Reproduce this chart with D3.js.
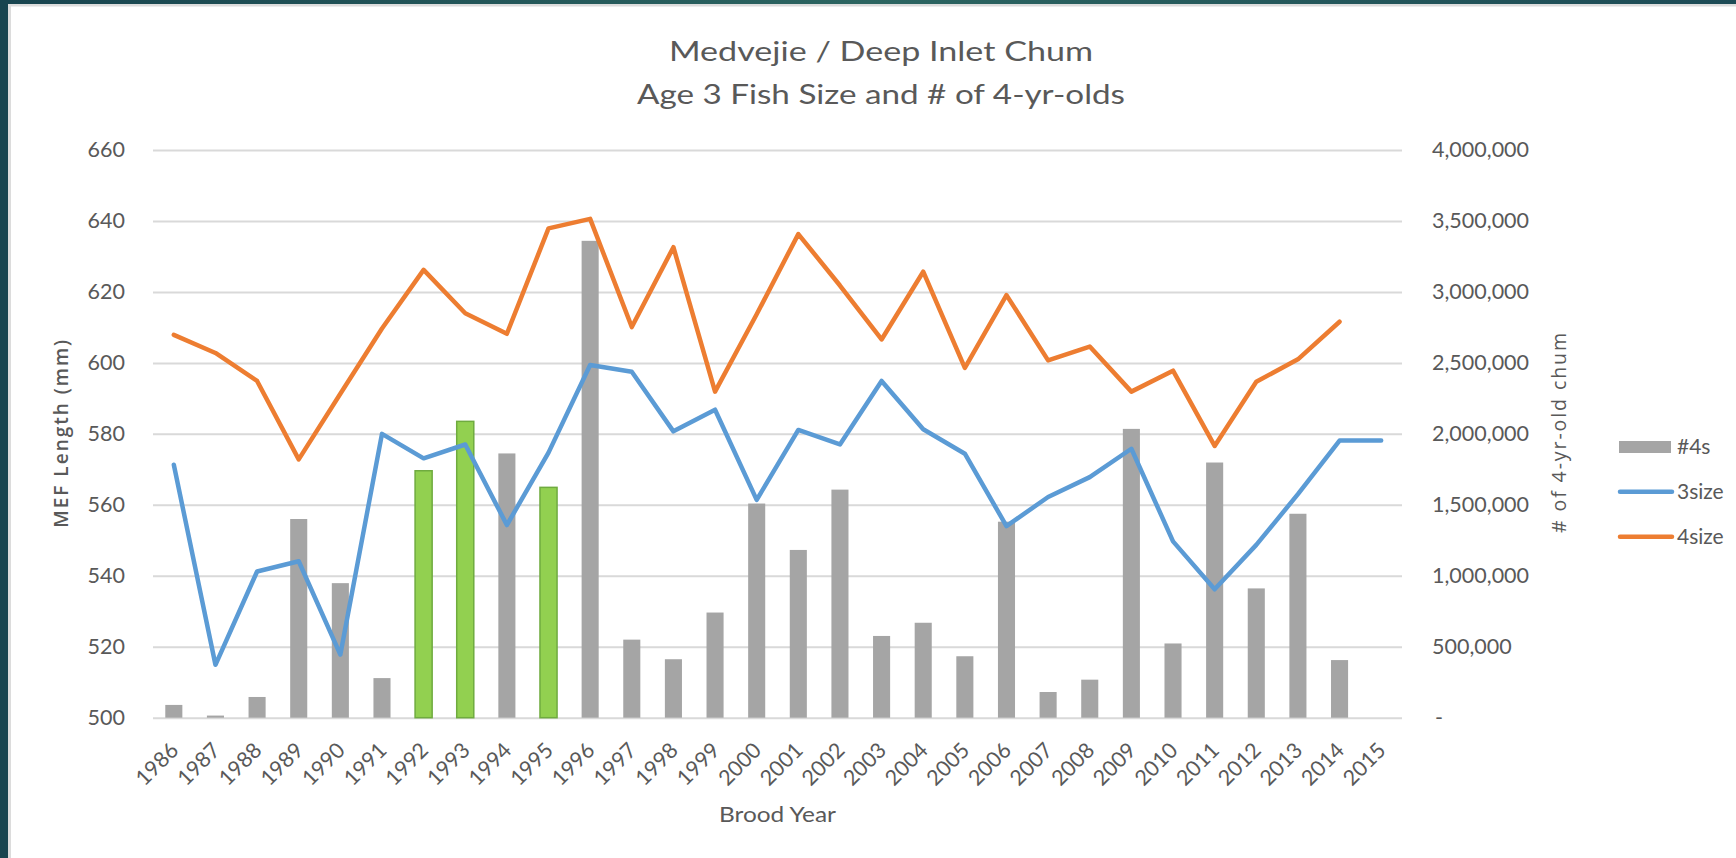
<!DOCTYPE html>
<html>
<head>
<meta charset="utf-8">
<script src="https://cdn.jsdelivr.net/npm/d3@7"></script>
<style>
  html, body { margin: 0; padding: 0; background: #ffffff; }
  svg { display: block; }
  text { fill: #595959; }
</style>
</head>
<body>
<svg id="chart" width="1736" height="858"></svg>
<script>
// ---------------- data ----------------
const years = ["1986","1987","1988","1989","1990","1991","1992","1993","1994","1995",
               "1996","1997","1998","1999","2000","2001","2002","2003","2004","2005",
               "2006","2007","2008","2009","2010","2011","2012","2013","2014","2015"];
const fours = [90000, 15000, 146000, 1400000, 948000, 279000, 1740000, 2088000, 1862000, 1623000,
               3360000, 550000, 412000, 741000, 1509000, 1182000, 1607000, 576000, 669000, 433000,
               1381000, 181000, 268000, 2035000, 523000, 1798000, 911000, 1437000, 406000, null];
const size3 = [571.3, 514.9, 541.2, 544.1, 517.8, 580.0, 573.1, 577.0, 554.3, 574.7,
               599.4, 597.5, 580.7, 586.8, 561.4, 581.1, 577.0, 594.9, 581.3, 574.4,
               554.0, 562.2, 567.8, 575.8, 549.7, 536.2, 548.7, 563.0, 578.1, 578.1];
const size4 = [607.9, 602.8, 594.9, 572.8, 591.3, 609.7, 626.2, 614.0, 608.2, 637.9,
               640.6, 610.1, 632.6, 591.9, 613.7, 636.3, 621.8, 606.6, 625.7, 598.6,
               619.1, 600.7, 604.6, 591.9, 597.8, 576.6, 594.7, 601.0, 611.6, null];
const highlightYears = ["1992", "1993", "1995"];
const leftTicks = [500, 520, 540, 560, 580, 600, 620, 640, 660];
const rightTicks = [0, 500000, 1000000, 1500000, 2000000, 2500000, 3000000, 3500000, 4000000];
const titleLines = ["Medvejie / Deep Inlet Chum", "Age 3 Fish Size and # of 4-yr-olds"];
const seriesNames = ["#4s", "3size", "4size"];

// ---------------- layout ----------------
const W = 1736, H = 858;
const plot = { left: 153, right: 1402, top: 150, bottom: 717.7 };
const colors = { bar: "#a5a5a5", hi: "#92d050", hiStroke: "#6fab3f", s3: "#5b9bd5", s4: "#ed7d31", grid: "#d9d9d9" };
const tickFont = "Lato, 'Noto Sans', sans-serif";

const svg = d3.select("#chart");

// frame / background
const defs = svg.append("defs");
const grad = defs.append("linearGradient").attr("id", "teal").attr("x1", "0").attr("x2", "1").attr("y1", "0").attr("y2", "0");
grad.append("stop").attr("offset", "0").attr("stop-color", "#18444f");
grad.append("stop").attr("offset", "0.5").attr("stop-color", "#2c6561");
grad.append("stop").attr("offset", "1").attr("stop-color", "#1d4b56");
svg.append("rect").attr("x", 0).attr("y", 0).attr("width", W).attr("height", H).attr("fill", "#ffffff");
svg.append("rect").attr("x", 0).attr("y", 0).attr("width", W).attr("height", 4).attr("fill", "url(#teal)");
svg.append("rect").attr("x", 0).attr("y", 0).attr("width", 8).attr("height", H).attr("fill", "#18444f");
svg.append("rect").attr("x", 8).attr("y", 4).attr("width", W - 8).attr("height", 2.5).attr("fill", "#dcdcdc");
svg.append("rect").attr("x", 8).attr("y", 4).attr("width", 3).attr("height", H - 4).attr("fill", "#dcdcdc");

// scales
const x = d3.scaleBand().domain(years).range([plot.left, plot.right]).paddingInner(0.59).paddingOuter(0.295);
const yL = d3.scaleLinear().domain([500, 660]).range([plot.bottom, plot.top]);
const yR = d3.scaleLinear().domain([0, 4000000]).range([plot.bottom, plot.top]);
const cx = d => x(d) + x.bandwidth() / 2;

// gridlines
const grid = svg.append("g").attr("transform", `translate(${plot.left},0)`)
  .call(d3.axisLeft(yL).tickValues(leftTicks).tickSize(-(plot.right - plot.left)).tickFormat(""));
grid.select(".domain").remove();
grid.selectAll("line").attr("stroke", colors.grid).attr("stroke-width", 2);

// left axis labels
const gL = svg.append("g").attr("transform", `translate(${plot.left},0)`)
  .call(d3.axisLeft(yL).tickValues(leftTicks).tickSize(0).tickPadding(28).tickFormat(d3.format("d")));
gL.select(".domain").remove();
gL.selectAll("text").attr("font-family", tickFont).attr("font-size", 21.5).attr("fill", "#595959");

// right axis labels
const gR = svg.append("g").attr("transform", `translate(${plot.right},0)`)
  .call(d3.axisRight(yR).tickValues(rightTicks).tickSize(0).tickPadding(30)
    .tickFormat(d => d === 0 ? "-" : d3.format(",")(d)));
gR.select(".domain").remove();
gR.selectAll("text").attr("font-family", tickFont).attr("font-size", 21.5).attr("fill", "#595959");
gR.selectAll(".tick").filter(d => d === 0).select("text").attr("dx", 3);

// bars
const barData = years.map((yr, i) => ({ yr, v: fours[i] })).filter(d => d.v != null);
svg.append("g").selectAll("rect").data(barData).join("rect")
  .attr("x", d => x(d.yr))
  .attr("width", x.bandwidth())
  .attr("y", d => yR(d.v))
  .attr("height", d => yR(0) - yR(d.v))
  .attr("fill", d => highlightYears.includes(d.yr) ? colors.hi : colors.bar)
  .attr("stroke", d => highlightYears.includes(d.yr) ? colors.hiStroke : "none")
  .attr("stroke-width", 1.5);

// lines
const lineGen = d3.line().defined(d => d.v != null).x(d => cx(d.yr)).y(d => yL(d.v));
[[size3, colors.s3], [size4, colors.s4]].forEach(([arr, col]) => {
  svg.append("path")
    .datum(years.map((yr, i) => ({ yr, v: arr[i] })))
    .attr("d", lineGen)
    .attr("fill", "none")
    .attr("stroke", col)
    .attr("stroke-width", 4.5)
    .attr("stroke-linejoin", "round")
    .attr("stroke-linecap", "round");
});

// x-axis labels
const gX = svg.append("g").attr("transform", `translate(0,${plot.bottom})`)
  .call(d3.axisBottom(x).tickSize(0).tickFormat(d => d));
gX.select(".domain").remove();
gX.selectAll(".tick text")
  .attr("font-family", tickFont).attr("font-size", 21.5).attr("fill", "#595959")
  .attr("text-anchor", "end")
  .attr("dy", null).attr("y", null)
  .attr("transform", "translate(6,34) rotate(-45)");

// title
const titleWidths = [424, 488];
svg.append("g").selectAll("text").data(titleLines).join("text")
  .attr("x", 881)
  .attr("y", (d, i) => i === 0 ? 61 : 103.5)
  .attr("text-anchor", "middle")
  .attr("font-family", tickFont)
  .attr("font-size", 27)
  .attr("fill", "#595959")
  .attr("textLength", (d, i) => titleWidths[i])
  .attr("lengthAdjust", "spacingAndGlyphs")
  .text(d => d);

// axis titles
svg.append("text")
  .attr("transform", `translate(61,${(plot.top + plot.bottom) / 2}) rotate(-90)`)
  .attr("text-anchor", "middle").attr("dominant-baseline", "central")
  .attr("font-family", "'Open Sans', sans-serif").attr("font-size", 19).attr("font-weight", 600)
  .attr("textLength", 188).attr("lengthAdjust", "spacing")
  .attr("fill", "#595959")
  .text("MEF Length (mm)");
svg.append("text")
  .attr("transform", `translate(1558,433) rotate(-90)`)
  .attr("text-anchor", "middle").attr("dominant-baseline", "central")
  .attr("font-family", "'Open Sans', sans-serif").attr("font-size", 19.5)
  .attr("textLength", 200).attr("lengthAdjust", "spacing")
  .attr("fill", "#595959")
  .text("# of 4-yr-old chum");
svg.append("text")
  .attr("x", (plot.left + plot.right) / 2).attr("y", 822)
  .attr("text-anchor", "middle")
  .attr("font-family", tickFont).attr("font-size", 22)
  .attr("textLength", 117).attr("lengthAdjust", "spacingAndGlyphs")
  .attr("fill", "#595959")
  .text("Brood Year");

// legend
const leg = svg.append("g");
const legRows = [
  { name: seriesNames[0], type: "bar", col: colors.bar, y: 447 },
  { name: seriesNames[1], type: "line", col: colors.s3, y: 491.7 },
  { name: seriesNames[2], type: "line", col: colors.s4, y: 536.7 }
];
legRows.forEach(r => {
  if (r.type === "bar") {
    leg.append("rect").attr("x", 1619).attr("y", r.y - 6).attr("width", 52).attr("height", 12).attr("fill", r.col);
  } else {
    leg.append("line").attr("x1", 1620).attr("x2", 1672).attr("y1", r.y).attr("y2", r.y)
      .attr("stroke", r.col).attr("stroke-width", 4.5).attr("stroke-linecap", "round");
  }
  leg.append("text").attr("x", 1677).attr("y", r.y).attr("dy", "0.35em")
    .attr("font-family", tickFont).attr("font-size", 21).attr("fill", "#595959")
    .text(r.name);
});
</script>
</body>
</html>
